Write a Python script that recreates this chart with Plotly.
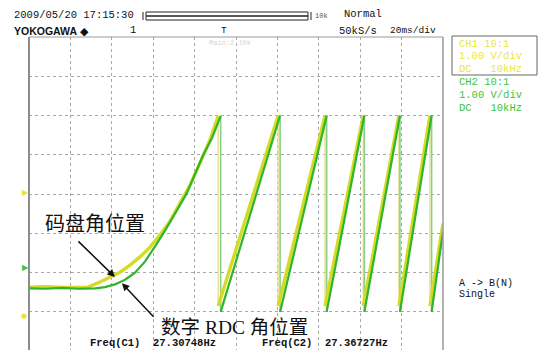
import plotly.graph_objects as go

# ---------------- data (time in ms, amplitude in V, 1 V/div, 20 ms/div) ----------------
# CH1 (yellow): encoder (码盘) angle
ch1_t = [0, 8, 16, 24, 28.5, 34.3, 39.1, 44.0, 48.8, 53.6, 58.5, 63.3, 68.1, 72.9, 77.8,
         82.6, 87.4, 91.4, 91.4, 120.4, 120.4, 143.0, 143.0, 161.5, 161.5, 178.7, 178.7,
         193.7, 193.7, 200]
ch1_v = [-2.37, -2.36, -2.38, -2.37, -2.37, -2.24, -2.11, -1.99, -1.81, -1.60, -1.35, -1.04,
         -0.69, -0.25, 0.23, 0.79, 1.38, 1.99, -2.85, 2.0, -2.85, 2.0, -2.85, 2.0, -2.85,
         2.0, -2.85, 2.0, -2.85, -0.75]
# CH2 (green): digital RDC angle
ch2_t = [0, 8, 16, 24, 31.9, 36.7, 41.5, 46.4, 51.2, 56.0, 60.9, 65.7, 71.5, 76.3, 80.2,
         84.1, 88.4, 92.6, 92.6, 121.3, 121.3, 143.8, 143.8, 162.0, 162.0, 179.2, 179.2,
         194.5, 194.5, 200]
ch2_v = [-2.40, -2.41, -2.39, -2.41, -2.40, -2.37, -2.30, -2.18, -2.00, -1.72, -1.33, -0.93,
         -0.41, 0.03, 0.51, 0.99, 1.43, 1.99, -3.0, 2.0, -3.0, 2.0, -3.0, 2.0, -3.0, 2.0,
         -3.0, 2.0, -3.0, -0.95]

freq_labels = ["Freq(C1)\u00a0\u00a027.30748Hz", "Freq(C2)\u00a0\u00a027.36727Hz"]
ch_labels = [["CH1 10:1", "1.00 V/div", "DC\u00a0\u00a0\u00a010kHz"],
             ["CH2 10:1", "1.00 V/div", "DC\u00a0\u00a0\u00a010kHz"]]

YEL = "#d4da26"
YEL_L = "#e6e69c"
GRN = "#2db52d"
GRN_L = "#8ccf8c"

W, H = 546, 350
L, R, T, B = 29, 443, 37, 350


def px(x):
    return (x - L) / (R - L)


def py(y):
    return (B - y) / (B - T)


def split(t, v):
    rx, ry, dx, dy = [], [], [], []
    for i in range(len(t)):
        rx.append(t[i]); ry.append(v[i])
        if i + 1 < len(t) and t[i + 1] == t[i]:
            dx += [t[i], t[i + 1], None]; dy += [v[i], v[i + 1], None]
            rx.append(None); ry.append(None)
    return rx, ry, dx, dy


fig = go.Figure()
y_rx, y_ry, y_dx, y_dy = split(ch1_t, ch1_v)
g_rx, g_ry, g_dx, g_dy = split(ch2_t, ch2_v)
fig.add_trace(go.Scatter(x=y_dx, y=y_dy, mode="lines", line=dict(color=YEL_L, width=1.6), hoverinfo="skip"))
fig.add_trace(go.Scatter(x=g_dx, y=g_dy, mode="lines", line=dict(color=GRN_L, width=1.6), hoverinfo="skip"))
fig.add_trace(go.Scatter(x=y_rx, y=y_ry, mode="lines", line=dict(color=YEL, width=3.4), name="CH1"))
fig.add_trace(go.Scatter(x=g_rx, y=g_ry, mode="lines", line=dict(color=GRN, width=2.2), name="CH2"))

fig.update_xaxes(range=[0, 200], dtick=20, showgrid=True, gridcolor="#a8a8a8", griddash="dot",
                 gridwidth=1, zeroline=False, showticklabels=False, ticks="", showline=False)
fig.update_yaxes(range=[-3.97, 4], dtick=1, tick0=0, showgrid=True, gridcolor="#a8a8a8", griddash="dot",
                 gridwidth=1, zeroline=False, showticklabels=False, ticks="", showline=False)

shapes = [
    dict(type="line", xref="paper", yref="paper", x0=0, x1=0, y0=0, y1=1, line=dict(color="#8c8c8c", width=2)),
    dict(type="line", xref="paper", yref="paper", x0=0, x1=1, y0=1, y1=1, line=dict(color="#9a9a9a", width=1)),
    dict(type="line", xref="paper", yref="paper", x0=1, x1=1, y0=0, y1=1, line=dict(color="#9a9a9a", width=1.5)),
    # memory bar
    dict(type="rect", xref="paper", yref="paper", x0=px(146), x1=px(308), y0=py(20), y1=py(12),
         line=dict(color="#222", width=1)),
    dict(type="line", xref="paper", yref="paper", x0=px(146), x1=px(308), y0=py(16), y1=py(16),
         line=dict(color="#222", width=1.5)),
    dict(type="line", xref="paper", yref="paper", x0=px(143), x1=px(143), y0=py(20), y1=py(12),
         line=dict(color="#222", width=1)),
    dict(type="line", xref="paper", yref="paper", x0=px(311), x1=px(311), y0=py(20), y1=py(12),
         line=dict(color="#222", width=1)),
    # CH1 box
    dict(type="rect", xref="paper", yref="paper", x0=px(452), x1=px(537), y0=py(75), y1=py(36),
         line=dict(color="#666", width=1)),
]

MONO = "Liberation Mono, DejaVu Sans Mono, monospace"
ann = []


def txt(x, y, s, size=10.5, color="#111", family=MONO, anchor="left"):
    ann.append(dict(x=px(x), y=py(y), xref="paper", yref="paper", text=s, showarrow=False,
                    xanchor=anchor, yanchor="middle", font=dict(family=family, size=size, color=color)))


txt(12, 15, "2009/05/20 17:15:30", 10.5)
txt(12, 31, "<b>YOKOGAWA</b> ◆", 10.5, family="Liberation Sans, Arial, sans-serif")
txt(128, 30, "1", 10.5)
txt(313, 16, "10k", 7, color="#555")
txt(342, 14, "Normal", 10.5)
txt(219, 31, "T", 9.5)
txt(337, 31, "50kS/s", 10.5)
txt(388, 31, "20ms/div", 9.5)
txt(207, 43, "Main:2 10k", 7, color="#d6d6d6")

for i, line in enumerate(ch_labels[0]):
    txt(457, 43.5 + 12.5 * i, line, 10.5, color="#e8e83a")
for i, line in enumerate(ch_labels[1]):
    txt(457, 82 + 13 * i, line, 10.5, color="#3cc43c")

txt(457, 283, "A -> B(N)", 10, color="#111")
txt(457, 294, "Single", 10, color="#111")

txt(88, 343, "<b>" + freq_labels[0] + "</b>", 10.5)
txt(260, 343, "<b>" + freq_labels[1] + "</b>", 10.5)

# channel markers on the left edge
txt(20, 192, "▶", 8, color="#e6e63a", family="DejaVu Sans")
txt(20, 267, "▶", 8, color="#3cc43c", family="DejaVu Sans")
txt(19, 316, "●", 7, color="#e6e63a", family="DejaVu Sans")

CJK = "Liberation Serif, Noto Sans CJK SC, serif"
txt(95, 224, "码盘角位置", 20, color="#111", family=CJK, anchor="center")
txt(234, 327, "数字 RDC 角位置", 19.5, color="#111", family=CJK, anchor="center")

# arrows
ann.append(dict(x=41.5, y=-2.11, xref="x", yref="y", ax=-38, ay=-37, axref="pixel", ayref="pixel",
                showarrow=True, arrowhead=2, arrowsize=1, arrowwidth=1.5, arrowcolor="#111", text=""))
ann.append(dict(x=44.9, y=-2.27, xref="x", yref="y", ax=33, ay=35, axref="pixel", ayref="pixel",
                showarrow=True, arrowhead=2, arrowsize=1, arrowwidth=1.5, arrowcolor="#111", text=""))

fig.update_layout(
    width=W, height=H,
    margin=dict(l=L, r=W - R, t=T, b=0, autoexpand=False),
    paper_bgcolor="white", plot_bgcolor="white",
    showlegend=False, shapes=shapes, annotations=ann,
)
fig.write_html("out.html", config={"displayModeBar": False},
               post_script="document.body.style.margin='0';document.body.style.padding='0';"
                           "document.body.style.overflow='hidden';")
